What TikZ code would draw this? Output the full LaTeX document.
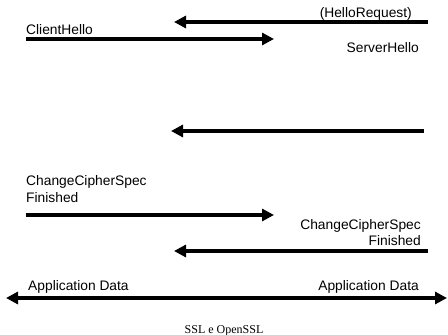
\documentclass[tikz,border=0pt]{standalone}
\usepackage{fontspec}
\setmainfont{Liberation Sans}
\newfontfamily\capfont{Liberation Serif}
\usetikzlibrary{arrows.meta}
\begin{document}
\begin{tikzpicture}[x=1pt,y=-1pt,
  msg/.style={line width=3.2pt,-{Triangle[length=12pt,width=12pt]}},
  lbl/.style={inner sep=0pt,font=\fontsize{13.8}{16}\selectfont}]
\useasboundingbox (0,0) rectangle (448,335);
% arrow end points
\coordinate (r1) at (428,22);  \coordinate (l1) at (174,22);
\coordinate (l2) at (26,39);   \coordinate (r2) at (274,39);
\coordinate (r3) at (424,131); \coordinate (l3) at (171,131);
\coordinate (l4) at (26,215);  \coordinate (r4) at (274,215);
\coordinate (r5) at (428,251); \coordinate (l5) at (174,251);
\coordinate (l6) at (6,298);   \coordinate (r6) at (447,298);
% labels
\node[lbl,anchor=base east] (hr) at (412,17) {(HelloRequest)};
\node[lbl,anchor=base west] (ch) at (26,34) {ClientHello};
\node[lbl,anchor=base east] (sh) at (419,52) {ServerHello};
\node[lbl,anchor=base west] (ccs1) at (26,185) {ChangeCipherSpec};
\node[lbl,anchor=base west] (fin1) at (26,202) {Finished};
\node[lbl,anchor=base east] (ccs2) at (421,229) {ChangeCipherSpec};
\node[lbl,anchor=base east] (fin2) at (421,245) {Finished};
\node[lbl,anchor=base west] (ad1) at (28,290) {Application Data};
\node[lbl,anchor=base east] (ad2) at (419,290) {Application Data};
\node[inner sep=0pt,anchor=base,font=\capfont\fontsize{12}{14}\selectfont] (cap) at (224,333) {SSL e OpenSSL};
% arrows
\draw[msg] (r1) -- (l1);
\draw[msg] (l2) -- (r2);
\draw[msg] (r3) -- (l3);
\draw[msg] (l4) -- (r4);
\draw[msg] (r5) -- (l5);
\draw[msg,{Triangle[length=12pt,width=12pt]}-{Triangle[length=12pt,width=12pt]}] (l6) -- (r6);
\end{tikzpicture}
\end{document}
